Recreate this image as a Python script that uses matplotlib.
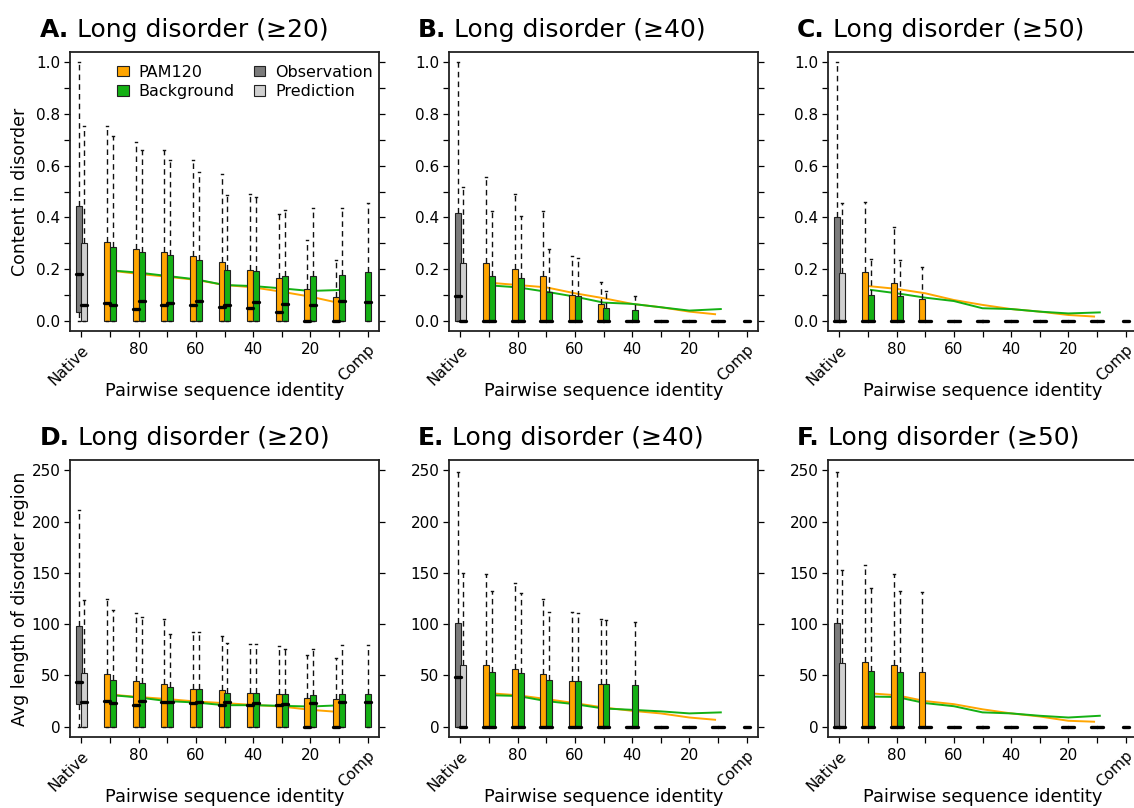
import numpy as np
import matplotlib
matplotlib.use("Agg")
import matplotlib.pyplot as plt
from matplotlib.patches import Patch

plt.rcParams['font.family'] = ['DejaVu Sans']

#--------------------------------------------------------------------------------------------
# colours
PAM_COL = '#FFA500'
BG_COL = '#14B014'
OBS_COL = '#7B7B7B'
PRED_COL = '#D0D0D0'
EDGE_COL = '#222222'

# x axis: native sequences, identity bins 90 .. 10, completely random
IDENTITY = [100, 90, 80, 70, 60, 50, 40, 30, 20, 10, 0]
IDENTITY_LABELS = ['Native', '', '80', '', '60', '', '40', '', '20', '', 'Comp']
# identity where the mean curves are evaluated
PAM_MEAN_AT = [90, 80, 70, 60, 50, 40, 30, 20, 11]
BG_MEAN_AT = [89, 80, 70, 60, 50, 40, 30, 20, 9]

#--------------------------------------------------------------------------------------------
# native boxes: [lower whisker, q1, median, q3, upper whisker]
# simulated boxes (q1 = lower whisker = 0): q3, median, upper whisker per bin

# A: content in disorder, regions >= 20
A_obs = [0.0, 0.035, 0.18, 0.445, 1.0]
A_pred = [0.0, 0.0, 0.062, 0.302, 0.755]
A_pam_q3 = [0.304, 0.276, 0.265, 0.251, 0.229, 0.196, 0.167, 0.124, 0.093]
A_pam_med = [0.067, 0.045, 0.061, 0.06, 0.052, 0.048, 0.035, 0.0, 0.0]
A_pam_hi = [0.754, 0.691, 0.659, 0.621, 0.568, 0.49, 0.412, 0.313, 0.233]
A_bg_q3 = [0.284, 0.267, 0.254, 0.235, 0.196, 0.192, 0.172, 0.174, 0.175, 0.187]
A_bg_med = [0.062, 0.078, 0.067, 0.078, 0.06, 0.071, 0.063, 0.062, 0.076, 0.074]
A_bg_hi = [0.713, 0.659, 0.621, 0.574, 0.487, 0.478, 0.429, 0.435, 0.438, 0.456]
A_pam_mean = [0.194, 0.181, 0.17, 0.158, 0.138, 0.129, 0.112, 0.093, 0.071]
A_bg_mean = [0.194, 0.186, 0.173, 0.16, 0.138, 0.134, 0.125, 0.115, 0.119]

# B: content in disorder, regions >= 40
B_obs = [0.0, 0.0, 0.096, 0.416, 1.0]
B_pred = [0.0, 0.0, 0.0, 0.222, 0.519]
B_pam_q3 = [0.225, 0.199, 0.173, 0.099, 0.063, 0, 0, 0, 0]
B_pam_med = [0, 0, 0, 0, 0, 0, 0, 0, 0]
B_pam_hi = [0.558, 0.491, 0.425, 0.251, 0.151, 0, 0, 0, 0]
B_bg_q3 = [0.171, 0.167, 0.11, 0.097, 0.048, 0.04, 0, 0, 0, 0]
B_bg_med = [0, 0, 0, 0, 0, 0, 0, 0, 0, 0]
B_bg_hi = [0.425, 0.406, 0.276, 0.242, 0.115, 0.097, 0, 0, 0, 0]
B_pam_mean = [0.147, 0.138, 0.129, 0.106, 0.087, 0.065, 0.052, 0.035, 0.025]
B_bg_mean = [0.136, 0.129, 0.112, 0.093, 0.07, 0.065, 0.052, 0.039, 0.045]

# C: content in disorder, regions >= 50
C_obs = [0.0, 0.0, 0.0, 0.40, 1.0]
C_pred = [0.0, 0.0, 0.0, 0.186, 0.457]
C_pam_q3 = [0.19, 0.147, 0.084, 0, 0, 0, 0, 0, 0]
C_pam_med = [0, 0, 0, 0, 0, 0, 0, 0, 0]
C_pam_hi = [0.461, 0.362, 0.209, 0, 0, 0, 0, 0, 0]
C_bg_q3 = [0.099, 0.096, 0, 0, 0, 0, 0, 0, 0, 0]
C_bg_med = [0, 0, 0, 0, 0, 0, 0, 0, 0, 0]
C_bg_hi = [0.238, 0.235, 0, 0, 0, 0, 0, 0, 0, 0]
C_pam_mean = [0.134, 0.123, 0.106, 0.08, 0.061, 0.045, 0.035, 0.022, 0.016]
C_bg_mean = [0.119, 0.106, 0.089, 0.076, 0.048, 0.045, 0.035, 0.028, 0.032]

# D: average disorder region length, regions >= 20
D_obs = [0, 22, 44, 98, 211]
D_pred = [0, 0, 24, 52, 124]
D_pam_q3 = [51, 44.6, 42, 37, 35.6, 33, 31.7, 28.5, 27]
D_pam_med = [25, 21, 24, 23, 21, 21, 21, 0, 0]
D_pam_hi = [125, 111, 105, 92, 88, 81, 78.6, 70, 67]
D_bg_q3 = [46, 43, 38.5, 37, 33, 33, 32, 31, 32, 32]
D_bg_med = [23, 25, 24, 24, 24, 23, 22.6, 23, 24, 24]
D_bg_hi = [114, 107, 90, 92, 82, 81, 76, 76, 79.6, 79.6]
D_pam_mean = [31.4, 29, 27, 24.6, 23, 21.3, 19.7, 16.5, 14.6]
D_bg_mean = [30.7, 28.5, 25, 23.6, 21, 21, 20.4, 19.7, 21]

# E: average disorder region length, regions >= 40
E_obs = [0, 0, 48.5, 101, 248]
E_pred = [0, 0, 0, 60, 150]
E_pam_q3 = [60, 56.6, 51.7, 45, 42, 0, 0, 0, 0]
E_pam_med = [0, 0, 0, 0, 0, 0, 0, 0, 0]
E_pam_hi = [149, 140, 125, 112, 105, 0, 0, 0, 0]
E_bg_q3 = [53, 52, 46, 44.5, 42, 41, 0, 0, 0, 0]
E_bg_med = [0, 0, 0, 0, 0, 0, 0, 0, 0, 0]
E_bg_hi = [132, 130, 112, 111, 104, 102, 0, 0, 0, 0]
E_pam_mean = [32.7, 30.7, 27, 23, 18.8, 15.5, 13, 9, 6.8]
E_bg_mean = [30.7, 30, 25, 22, 17.8, 16.5, 15, 13, 14]

# F: average disorder region length, regions >= 50
F_obs = [0, 0, 0, 101, 248]
F_pred = [0, 0, 0, 62.4, 153]
F_pam_q3 = [63, 60, 53, 0, 0, 0, 0, 0, 0]
F_pam_med = [0, 0, 0, 0, 0, 0, 0, 0, 0]
F_pam_hi = [158, 149, 131, 0, 0, 0, 0, 0, 0]
F_bg_q3 = [54, 53, 0, 0, 0, 0, 0, 0, 0, 0]
F_bg_med = [0, 0, 0, 0, 0, 0, 0, 0, 0, 0]
F_bg_hi = [135, 132, 0, 0, 0, 0, 0, 0, 0, 0]
F_pam_mean = [32.7, 30.7, 25, 22, 17, 13, 10, 5.8, 4.9]
F_bg_mean = [29.4, 29, 23, 20, 14, 13, 10.7, 9, 10.7]

#--------------------------------------------------------------------------------------------

def ident_pos(ident):
    # identity 100 (native) -> 0, identity 0 (comp) -> 10
    return (100 - np.asarray(ident, dtype=float)) / 10


def box_stats(lo, q1, med, q3, hi):
    return dict(whislo=lo, q1=q1, med=med, q3=q3, whishi=hi, fliers=[])


def draw_panel(ax, obs, pred, pam_q3, pam_med, pam_hi, bg_q3, bg_med, bg_hi,
               pam_mean, bg_mean):
    stats, positions, colors = [], [], []
    stats += [box_stats(*obs), box_stats(*pred)]
    positions += [-0.1, 0.1]
    colors += [OBS_COL, PRED_COL]

    xs = ident_pos(IDENTITY)
    for k in range(len(pam_q3)):
        stats.append(box_stats(0, 0, pam_med[k], pam_q3[k], pam_hi[k]))
        positions.append(xs[k + 1] - 0.1)
        colors.append(PAM_COL)
    for k in range(len(bg_q3)):
        stats.append(box_stats(0, 0, bg_med[k], bg_q3[k], bg_hi[k]))
        # the last background box (Comp) sits alone on its tick
        positions.append(xs[k + 1] + (0.1 if k + 1 < len(xs) - 1 else 0.0))
        colors.append(BG_COL)

    # mean curves behind the boxes
    ax.plot(ident_pos(PAM_MEAN_AT), pam_mean, color=PAM_COL, lw=1.4, zorder=1.5)
    ax.plot(ident_pos(BG_MEAN_AT), bg_mean, color=BG_COL, lw=1.4, zorder=1.5)

    art = ax.bxp(stats, positions=positions, widths=0.21, capwidths=0.07,
                 patch_artist=True, showfliers=False, manage_ticks=False,
                 boxprops=dict(edgecolor=EDGE_COL, linewidth=0.8),
                 whiskerprops=dict(color='#111111', linewidth=1.0, linestyle=(0, (4, 3))),
                 capprops=dict(color='#111111', linewidth=1.0),
                 medianprops=dict(color='black', linewidth=2.4, solid_capstyle='round'))
    for box, col in zip(art['boxes'], colors):
        box.set_facecolor(col)

    ax.set_xlim(-0.4, 10.4)
    ax.set_xticks(range(len(IDENTITY)), IDENTITY_LABELS)
    for lab in ax.get_xticklabels():
        if lab.get_text() in ('Native', 'Comp'):
            lab.set_rotation(45)
            lab.set_ha('right')
            lab.set_rotation_mode('anchor')
    ax.tick_params(axis='x', length=4.5, width=0.9, pad=3.5, labelsize=11)
    ax.tick_params(axis='y', length=4.5, width=0.9, pad=2.5, labelsize=11, right=True)
    for sp in ax.spines.values():
        sp.set_linewidth(1.3)
        sp.set_color('#222222')
    ax.set_xlabel('Pairwise sequence identity', fontsize=12.9)
    ax.xaxis.set_label_coords(0.5, -0.183)


def panel_title(fig, x, y, letter, text):
    t = fig.text(x, y, letter, fontsize=18, fontweight='bold', va='baseline', ha='left')
    fig.add_artist(matplotlib.text.Annotation(text, xy=(1, 0), xycoords=t, va='bottom',
                                              ha='left', fontsize=18))


#--------------------------------------------------------------------------------------------

W, H = 1134, 808
fig = plt.figure(figsize=(W / 100, H / 100), dpi=100)

col_left = [70, 449, 828]
row_top = [52, 460]
row_h = [279, 277]
ax_w = 309

panels = [
    ('A.', ' Long disorder (≥20)', A_obs, A_pred, A_pam_q3, A_pam_med, A_pam_hi, A_bg_q3, A_bg_med, A_bg_hi, A_pam_mean, A_bg_mean),
    ('B.', ' Long disorder (≥40)', B_obs, B_pred, B_pam_q3, B_pam_med, B_pam_hi, B_bg_q3, B_bg_med, B_bg_hi, B_pam_mean, B_bg_mean),
    ('C.', ' Long disorder (≥50)', C_obs, C_pred, C_pam_q3, C_pam_med, C_pam_hi, C_bg_q3, C_bg_med, C_bg_hi, C_pam_mean, C_bg_mean),
    ('D.', ' Long disorder (≥20)', D_obs, D_pred, D_pam_q3, D_pam_med, D_pam_hi, D_bg_q3, D_bg_med, D_bg_hi, D_pam_mean, D_bg_mean),
    ('E.', ' Long disorder (≥40)', E_obs, E_pred, E_pam_q3, E_pam_med, E_pam_hi, E_bg_q3, E_bg_med, E_bg_hi, E_pam_mean, E_bg_mean),
    ('F.', ' Long disorder (≥50)', F_obs, F_pred, F_pam_q3, F_pam_med, F_pam_hi, F_bg_q3, F_bg_med, F_bg_hi, F_pam_mean, F_bg_mean),
]

title_x = [40, 418, 797]
title_base = [37, 445]

for i, (letter, text, *data) in enumerate(panels):
    r, c = divmod(i, 3)
    ax = fig.add_axes([col_left[c] / W, (H - row_top[r] - row_h[r]) / H, ax_w / W, row_h[r] / H])
    draw_panel(ax, *data)
    if r == 0:
        ax.set_ylim(-0.04, 1.04)
        yt = np.round(np.arange(0, 1.01, 0.1), 1)
        ax.set_yticks(yt, [f'{v:.1f}' if j % 2 == 0 else '' for j, v in enumerate(yt)])
    else:
        ax.set_ylim(-10, 260)
        ax.set_yticks(range(0, 251, 50))
    if c == 0:
        ax.set_ylabel('Content in disorder' if r == 0 else 'Avg length of disorder region',
                      fontsize=12.5)
        ax.yaxis.set_label_coords(-0.162, 0.5)
        ax.yaxis.label.set_va('center')
    panel_title(fig, title_x[c] / W, (H - title_base[r]) / H, letter, text)

    if i == 0:
        handles = [Patch(facecolor=PAM_COL, edgecolor=EDGE_COL, lw=0.8, label='PAM120'),
                   Patch(facecolor=BG_COL, edgecolor=EDGE_COL, lw=0.8, label='Background'),
                   Patch(facecolor=OBS_COL, edgecolor=EDGE_COL, lw=0.8, label='Observation'),
                   Patch(facecolor=PRED_COL, edgecolor=EDGE_COL, lw=0.8, label='Prediction')]
        ax.legend(handles=handles, ncol=2, loc='upper left', bbox_to_anchor=(0.151, 0.955),
                  frameon=False, fontsize=11.5, handlelength=0.75, handleheight=0.65,
                  handletextpad=0.6, columnspacing=1.2, labelspacing=0.3,
                  borderpad=0, borderaxespad=0)

fig.savefig('out.png', dpi=100)
